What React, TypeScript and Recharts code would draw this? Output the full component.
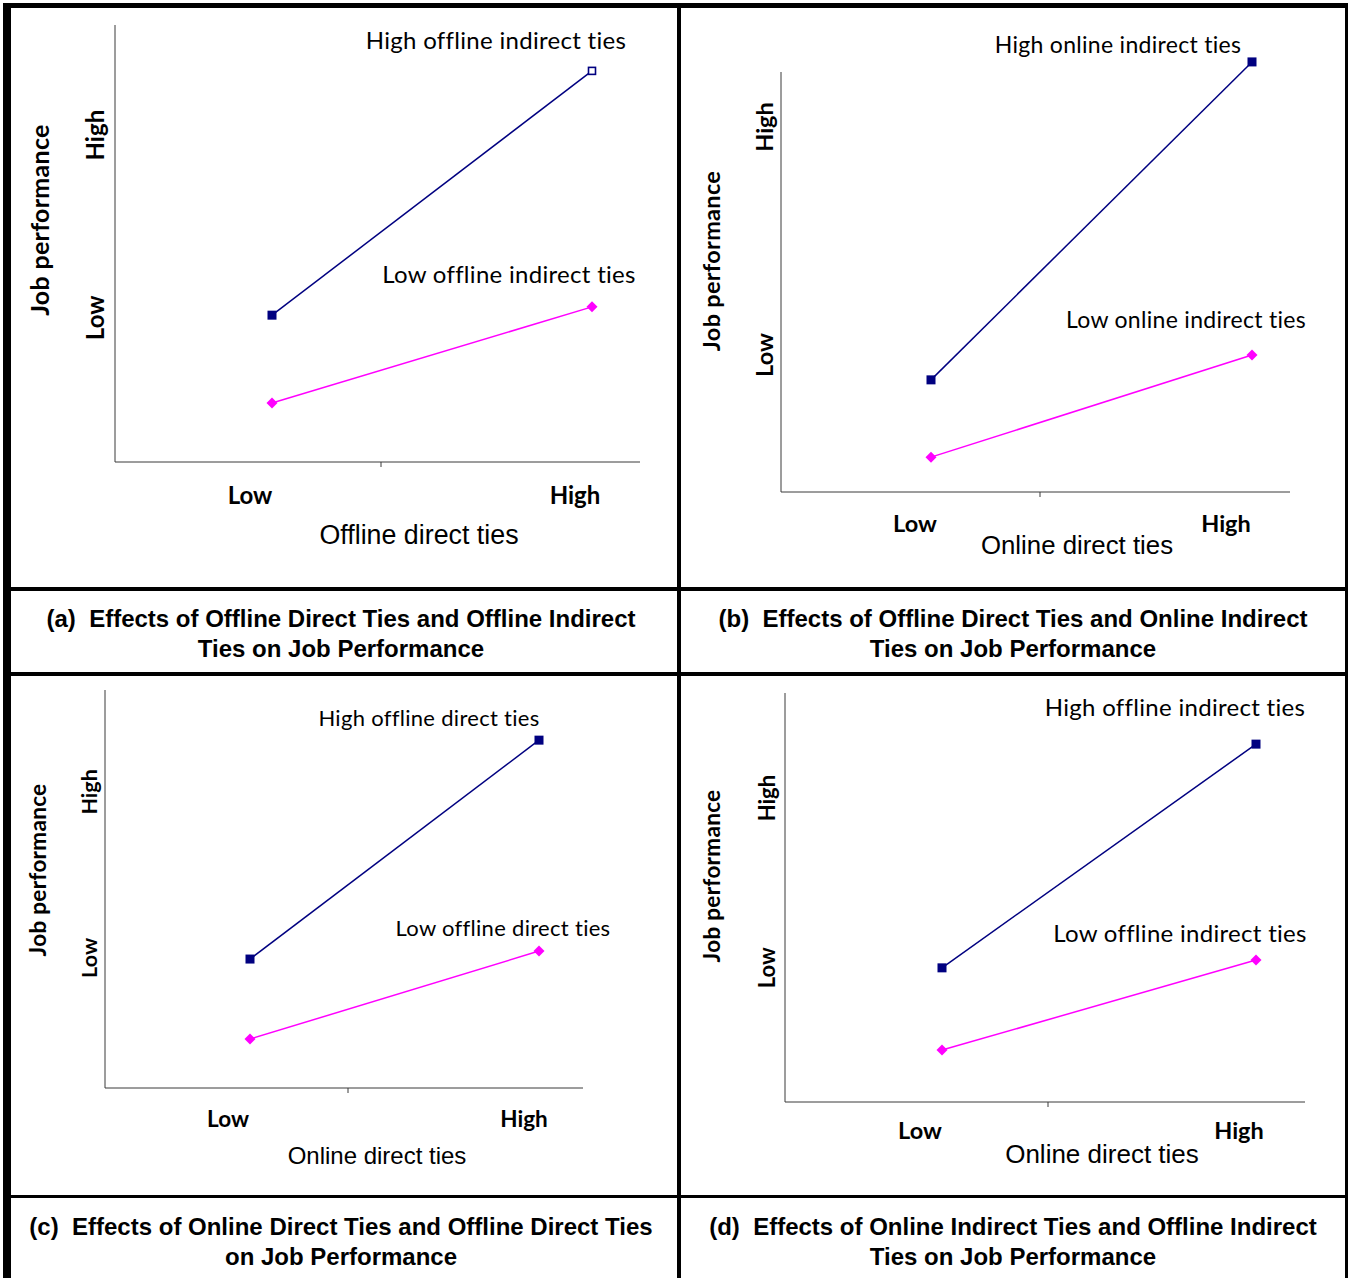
import { LineChart, Line, XAxis, YAxis, LabelList } from 'recharts';

const categories = ['Low', 'High'];
const yTickLabels = ['Low', 'High'];

// (a) offline direct x offline indirect
const aHighIndirect = [3.36, 8.95];
const aLowIndirect = [1.35, 3.55];
const aTicks = [3.3, 7.48];

// (b) offline direct x online indirect
const bHighIndirect = [2.67, 10.24];
const bLowIndirect = [0.83, 3.26];
const bTicks = [3.26, 8.69];

// (c) online direct x offline direct
const cHighDirect = [3.24, 8.74];
const cLowDirect = [1.23, 3.44];
const cTicks = [3.27, 7.44];

// (d) online indirect x offline indirect
const dHighIndirect = [3.28, 8.75];
const dLowIndirect = [1.27, 3.47];
const dTicks = [3.28, 7.43];

const NAVY = '#000080';
const MAGENTA = '#FF00FF';
const AXIS = '#3a3a3a';
const CHART_FONT = 'Lato, "Open Sans", sans-serif';
const ARIAL = '"Liberation Sans", Arial, sans-serif';

interface PanelProps {
  width: number;
  height: number;
  plotTop: number;
  plotBottom: number;
  plotLeft: number;
  plotRight: number;
  midTickX: number;
  yMax: number;
  padL: number;
  padR: number;
  high: number[];
  low: number[];
  ticks: number[];
  highName: string;
  lowName: string;
  xTitle: string;
  yTickX: number;
  yTickSize: number;
  yTitleX: number;
  yTitleY: number;
  yTitleSize: number;
  xTickDx: number[];
  xTickY: number;
  xTickSize: number;
  xTitleX: number;
  xTitleY: number;
  xTitleSize: number;
  hiLabel: [number, number];
  loLabel: [number, number];
  labelSize: number;
  hollowIndex?: number;
  axisDash?: string;
}

function Panel(p: PanelProps) {
  const data = categories.map((c, i) => ({ x: c, hi: p.high[i], lo: p.low[i] }));
  const bottomTotal = p.height - p.plotBottom;

  const squareDot = (props: any) => {
    const { cx, cy, index } = props;
    if (index === p.hollowIndex) {
      return (
        <rect key={`sq-${index}`} x={cx - 3.5} y={cy - 3.5} width={7} height={7}
          fill="#fff" stroke={NAVY} strokeWidth={1.6} />
      );
    }
    return <rect key={`sq-${index}`} x={cx - 4.5} y={cy - 4.5} width={9} height={9} fill={NAVY} />;
  };

  const diamondDot = (props: any) => {
    const { cx, cy, index } = props;
    const r = 5.5;
    return (
      <polygon key={`dm-${index}`}
        points={`${cx},${cy - r} ${cx + r},${cy} ${cx},${cy + r} ${cx - r},${cy}`}
        fill={MAGENTA} />
    );
  };

  const lineLabel = (name: string, off: [number, number]) => (props: any) => {
    if (props.index !== 1) return null;
    return (
      <text x={props.x + off[0]} y={props.y + off[1]} textAnchor="middle"
        fontFamily={CHART_FONT} fontSize={p.labelSize} letterSpacing={0.3} fill="#000">
        {name}
      </text>
    );
  };

  const yTick = (props: any) => {
    const { y, index } = props;
    return (
      <text x={p.yTickX} y={y} textAnchor="middle" transform={`rotate(-90, ${p.yTickX}, ${y})`}
        fontFamily={CHART_FONT} fontWeight="bold" fontSize={p.yTickSize} fill="#000">
        {yTickLabels[index]}
      </text>
    );
  };

  // category labels sit a little off the points; the only tick mark is the category boundary
  const xTick = (props: any) => {
    const { x, payload, index } = props;
    return (
      <g>
        {index === 0 && (
          <line x1={p.midTickX} x2={p.midTickX} y1={p.plotBottom} y2={p.plotBottom + 5}
            stroke={AXIS} strokeWidth={1} />
        )}
        <text x={x + p.xTickDx[index]} y={p.xTickY} textAnchor="middle"
          fontFamily={CHART_FONT} fontWeight="bold" fontSize={p.xTickSize} fill="#000">
          {payload.value}
        </text>
      </g>
    );
  };

  return (
    <LineChart
      width={p.width}
      height={p.height}
      data={data}
      margin={{ top: p.plotTop, right: p.width - p.plotRight, left: 0, bottom: bottomTotal - 5 }}
    >
      <XAxis
        dataKey="x"
        type="category"
        scale="point"
        padding={{ left: p.padL, right: p.padR }}
        height={5}
        axisLine={{ stroke: AXIS, strokeWidth: 1 }}
        tickLine={false}
        interval={0}
        tick={xTick}
        label={{
          value: p.xTitle,
          content: () => (
            <text x={p.xTitleX} y={p.xTitleY} textAnchor="middle"
              fontFamily={ARIAL} fontSize={p.xTitleSize} fill="#000">
              {p.xTitle}
            </text>
          ),
        }}
      />
      <YAxis
        domain={[0, p.yMax]}
        ticks={p.ticks}
        interval={0}
        width={p.plotLeft}
        tickLine={false}
        axisLine={{ stroke: AXIS, strokeWidth: 1, strokeDasharray: p.axisDash }}
        tick={yTick}
        label={{
          value: 'Job performance',
          content: () => (
            <text x={p.yTitleX} y={p.yTitleY} textAnchor="middle"
              transform={`rotate(-90, ${p.yTitleX}, ${p.yTitleY})`}
              fontFamily={CHART_FONT} fontWeight="bold" fontSize={p.yTitleSize}
              letterSpacing={0.3} fill="#000">
              Job performance
            </text>
          ),
        }}
      />
      <Line
        dataKey="hi"
        stroke={NAVY}
        strokeWidth={1.5}
        dot={squareDot}
        activeDot={false}
        isAnimationActive={false}
      >
        <LabelList dataKey="hi" content={lineLabel(p.highName, p.hiLabel)} />
      </Line>
      <Line
        dataKey="lo"
        stroke={MAGENTA}
        strokeWidth={1.5}
        dot={diamondDot}
        activeDot={false}
        isAnimationActive={false}
      >
        <LabelList dataKey="lo" content={lineLabel(p.lowName, p.loLabel)} />
      </Line>
    </LineChart>
  );
}

function Cell({ left, top, width, height, children }: any) {
  return (
    <div style={{ position: 'absolute', left, top, width, height, background: '#fff', overflow: 'hidden' }}>
      {children}
    </div>
  );
}

function Caption({ lines, padTop, shift = 0 }: { lines: string[]; padTop: number; shift?: number }) {
  return (
    <div style={{
      paddingTop: padTop,
      paddingRight: shift,
      textAlign: 'center',
      fontFamily: ARIAL,
      fontWeight: 'bold',
      fontSize: 24,
      lineHeight: '30px',
      whiteSpace: 'pre',
      color: '#000',
    }}>
      {lines.map((l) => <div key={l}>{l}</div>)}
    </div>
  );
}

export default function App() {
  return (
    <div style={{ position: 'absolute', left: 0, top: 0, width: 1348, height: 1278, background: '#fff', overflow: 'hidden' }}>
      <div style={{ position: 'absolute', left: 3, top: 3, width: 1345, height: 1290, background: '#000' }} />

      <Cell left={11} top={8} width={666} height={579}>
        <Panel
          width={666} height={579}
          plotTop={17} plotBottom={454} plotLeft={104} plotRight={629} midTickX={370}
          yMax={10} padL={157} padR={48}
          high={aHighIndirect} low={aLowIndirect} ticks={aTicks}
          highName="High offline indirect ties" lowName="Low offline indirect ties"
          xTitle="Offline direct ties"
          yTickX={93} yTickSize={24}
          yTitleX={38} yTitleY={212} yTitleSize={25}
          xTickDx={[-22, -17]} xTickY={496} xTickSize={24}
          xTitleX={408} xTitleY={536} xTitleSize={26.8}
          hiLabel={[-96, -22]} loLabel={[-83, -24]} labelSize={24}
          hollowIndex={1}
        />
      </Cell>
      <Cell left={681} top={8} width={664} height={579}>
        <Panel
          width={664} height={579}
          plotTop={43} plotBottom={484} plotLeft={100} plotRight={609} midTickX={359}
          yMax={10.5} padL={150} padR={38}
          high={bHighIndirect} low={bLowIndirect} ticks={bTicks}
          highName="High online indirect ties" lowName="Low online indirect ties"
          xTitle="Online direct ties"
          yTickX={92} yTickSize={23.5}
          yTitleX={39} yTitleY={253} yTitleSize={23.5}
          xTickDx={[-16, -26]} xTickY={524} xTickSize={23.5}
          xTitleX={396} xTitleY={546} xTitleSize={25.8}
          hiLabel={[-134, -9]} loLabel={[-66, -27]} labelSize={23}
          axisDash="0 21 420 1000"
        />
      </Cell>
      <Cell left={11} top={591} width={666} height={81}>
        <Caption padTop={13} shift={6} lines={['(a)  Effects of Offline Direct Ties and Offline Indirect', 'Ties on Job Performance']} />
      </Cell>
      <Cell left={681} top={591} width={664} height={81}>
        <Caption padTop={13} lines={['(b)  Effects of Offline Direct Ties and Online Indirect', 'Ties on Job Performance']} />
      </Cell>

      <Cell left={11} top={676} width={666} height={519}>
        <Panel
          width={666} height={519}
          plotTop={14} plotBottom={412} plotLeft={94} plotRight={572} midTickX={337}
          yMax={10} padL={145} padR={44}
          high={cHighDirect} low={cLowDirect} ticks={cTicks}
          highName="High offline direct ties" lowName="Low offline direct ties"
          xTitle="Online direct ties"
          yTickX={86} yTickSize={21.5}
          yTitleX={35} yTitleY={194} yTitleSize={22.5}
          xTickDx={[-22, -15]} xTickY={451} xTickSize={22.5}
          xTitleX={366} xTitleY={488} xTitleSize={24}
          hiLabel={[-110, -14]} loLabel={[-36, -15]} labelSize={22}
        />
      </Cell>
      <Cell left={681} top={676} width={664} height={519}>
        <Panel
          width={664} height={519}
          plotTop={17} plotBottom={426} plotLeft={104} plotRight={624} midTickX={367}
          yMax={10} padL={157} padR={49}
          high={dHighIndirect} low={dLowIndirect} ticks={dTicks}
          highName="High offline indirect ties" lowName="Low offline indirect ties"
          xTitle="Online direct ties"
          yTickX={94} yTickSize={22}
          yTitleX={39} yTitleY={200} yTitleSize={22.5}
          xTickDx={[-22, -17]} xTickY={463} xTickSize={23.5}
          xTitleX={421} xTitleY={487} xTitleSize={26}
          hiLabel={[-81, -28]} loLabel={[-76, -18]} labelSize={24}
        />
      </Cell>
      <Cell left={11} top={1198} width={666} height={90}>
        <Caption padTop={14} shift={6} lines={['(c)  Effects of Online Direct Ties and Offline Direct Ties', 'on Job Performance']} />
      </Cell>
      <Cell left={681} top={1198} width={664} height={90}>
        <Caption padTop={14} lines={['(d)  Effects of Online Indirect Ties and Offline Indirect', 'Ties on Job Performance']} />
      </Cell>
    </div>
  );
}
